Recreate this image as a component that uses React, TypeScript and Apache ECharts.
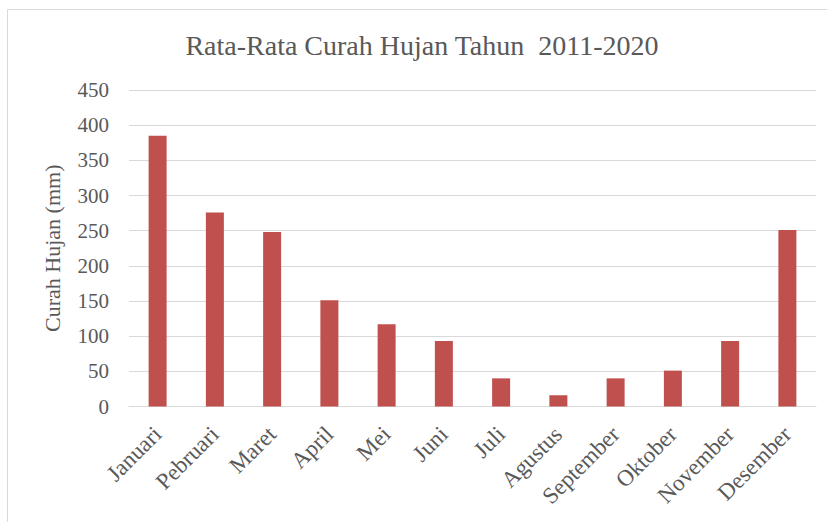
import React, { useEffect, useRef } from "react";
import * as echarts from "echarts";

const TITLE = "Rata-Rata Curah Hujan Tahun  2011-2020";
const Y_NAME = "Curah Hujan (mm)";
const MONTHS = ["Januari", "Pebruari", "Maret", "April", "Mei", "Juni", "Juli", "Agustus", "September", "Oktober", "November", "Desember"];
const RAINFALL = [385, 276, 248, 151, 117, 93, 40, 16, 40, 51, 93, 251];
const Y_MIN = 0;
const Y_MAX = 450;
const Y_STEP = 50;

const FONT = "'Liberation Serif', 'Times New Roman', serif";
const TEXT = "#595959";

export default function App() {
  const ref = useRef<HTMLDivElement>(null);
  useEffect(() => {
    if (!ref.current) return;
    const chart = echarts.init(ref.current, undefined, { renderer: "svg" });
    chart.setOption({
      animation: false,
      backgroundColor: "#ffffff",
      title: {
        text: TITLE,
        left: 417,
        top: 26,
        textAlign: "center",
        textStyle: { fontFamily: FONT, fontSize: 28, fontWeight: "normal", color: TEXT },
      },
      graphic: [
        {
          type: "rect",
          left: 5,
          top: 7,
          shape: { width: 830, height: 513 },
          style: { fill: "none", stroke: "#d9d9d9", lineWidth: 1 },
          silent: true,
          z: -1,
        },
      ],
      grid: { left: 129, right: 11, top: 90, bottom: 115.5 },
      xAxis: {
        type: "category",
        data: MONTHS,
        axisLine: { lineStyle: { color: "#d9d9d9" } },
        axisTick: { show: false },
        axisLabel: {
          rotate: 45,
          interval: 0,
          margin: 24,
          fontFamily: FONT,
          fontSize: 23,
          color: TEXT,
        },
      },
      yAxis: {
        type: "value",
        min: Y_MIN,
        max: Y_MAX,
        interval: Y_STEP,
        name: Y_NAME,
        nameLocation: "middle",
        nameGap: 66,
        nameTextStyle: { fontFamily: FONT, fontSize: 22, color: TEXT },
        axisLine: { show: false },
        axisTick: { show: false },
        splitLine: { lineStyle: { color: "#d9d9d9" } },
        axisLabel: { margin: 20, fontFamily: FONT, fontSize: 21, color: TEXT },
      },
      series: [
        {
          type: "bar",
          data: RAINFALL,
          barWidth: 18,
          itemStyle: { color: "#C0504D" },
        },
      ],
    });
    return () => chart.dispose();
  }, []);
  return <div ref={ref} style={{ position: "absolute", left: 0, top: 0, width: 827, height: 522 }} />;
}
